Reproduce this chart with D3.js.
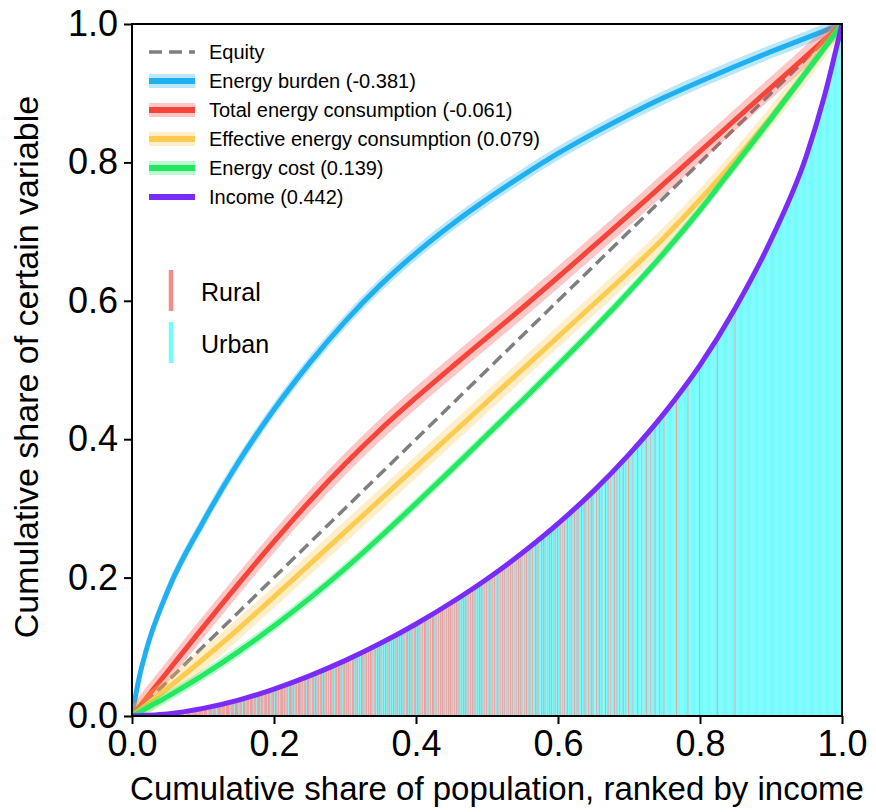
<!DOCTYPE html>
<html>
<head>
<meta charset="utf-8"/>
<script src="https://cdn.jsdelivr.net/npm/d3@7"></script>
<style>
  body { margin: 0; background: #fff; }
  text { font-family: "Liberation Sans", Arial, sans-serif; fill: #000; }
</style>
</head>
<body>
<div id="chart"></div>
<script>
// cumulative share of population (ranked by income)
var pop = [0, 0.01, 0.02, 0.05, 0.1, 0.15, 0.2, 0.25, 0.3, 0.35, 0.4, 0.45, 0.5,
           0.55, 0.6, 0.65, 0.7, 0.75, 0.8, 0.85, 0.9, 0.95, 0.975, 1];

var equity      = pop.slice();
var burden      = [0, 0.055, 0.095, 0.18, 0.28, 0.367, 0.443, 0.51, 0.57, 0.623, 0.669, 0.71, 0.747,
                   0.781, 0.813, 0.842, 0.869, 0.894, 0.917, 0.939, 0.96, 0.98, 0.99, 1];
var totalCons   = [0, 0.0128, 0.0256, 0.064, 0.128, 0.191, 0.252, 0.31, 0.364, 0.414, 0.46, 0.504, 0.547,
                   0.59, 0.634, 0.679, 0.724, 0.77, 0.816, 0.862, 0.908, 0.954, 0.977, 1];
var effCons     = [0, 0.008, 0.016, 0.04, 0.082, 0.126, 0.172, 0.219, 0.266, 0.313, 0.36, 0.407, 0.454,
                   0.501, 0.548, 0.595, 0.642, 0.692, 0.746, 0.804, 0.866, 0.932, 0.966, 1];
var energyCost  = [0, 0.005, 0.011, 0.028, 0.059, 0.093, 0.13, 0.17, 0.213, 0.259, 0.307, 0.356, 0.406,
                   0.456, 0.507, 0.559, 0.613, 0.67, 0.731, 0.797, 0.863, 0.931, 0.965, 1];
var income      = [0, 0.0005, 0.001, 0.003, 0.011, 0.023, 0.039, 0.058, 0.08, 0.105, 0.133, 0.164, 0.198,
                   0.236, 0.278, 0.325, 0.378, 0.438, 0.507, 0.59, 0.688, 0.81, 0.895, 1];

var seriesNames  = ["Energy burden (-0.381)", "Total energy consumption (-0.061)",
                    "Effective energy consumption (0.079)", "Energy cost (0.139)", "Income (0.442)"];
var seriesColors = ["#1eb0f0", "#f5443a", "#fccb50", "#22e862", "#7a2cf6"];
var bandHalf     = [0.01, 0.016, 0.016, 0.008, 0];   // half width of the shaded band

// share of rural households in each 0.05 income bin
var ruralShare = [0.9, 0.85, 0.8, 0.75, 0.7, 0.65, 0.6, 0.55, 0.55, 0.5,
                  0.45, 0.42, 0.38, 0.3, 0.2, 0.08, 0.04, 0, 0, 0];
var xTicks = [0, 0.2, 0.4, 0.6, 0.8, 1.0];
var yTicks = [0, 0.2, 0.4, 0.6, 0.8, 1.0];

var W = 876, H = 812;
var x = d3.scaleLinear().domain([0, 1]).range([132, 842]);
var y = d3.scaleLinear().domain([0, 1]).range([716, 24]);

var svg = d3.select("#chart").append("svg").attr("width", W).attr("height", H);
svg.append("defs").append("clipPath").attr("id", "clip")
   .append("rect").attr("x", 132).attr("y", 24).attr("width", 710).attr("height", 692);

var plot = svg.append("g").attr("clip-path", "url(#clip)");

var line = d3.line().x(function(d) { return x(d[0]); }).y(function(d) { return y(d[1]); })
             .curve(d3.curveMonotoneX);

// rural / urban bars under the income curve (heights follow the drawn income path)
var incomePath = svg.append("path").attr("d", line(d3.zip(pop, income)))
                    .attr("fill", "none").attr("stroke", "none");
var pathNode = incomePath.node(), pathLen = pathNode.getTotalLength();
var samples = d3.range(0, 1001).map(function(i) { return pathNode.getPointAtLength(pathLen * i / 1000); });
var curveTopAt = function(px) {
  var i = d3.bisector(function(s) { return s.x; }).left(samples, px);
  return samples[Math.min(i, samples.length - 1)].y;
};
incomePath.remove();

var strips = 40, binW = 0.05, bars = [];
ruralShare.forEach(function(s, b) {
  var n = Math.round(s * strips);
  for (var j = 0; j < strips; j++) {
    var rural = Math.floor((j + 1) * n / strips) > Math.floor(j * n / strips);
    var p0 = b * binW + j * binW / strips;
    bars.push({p0: p0, p1: p0 + binW / strips, rural: rural});
  }
});
plot.append("g").selectAll("rect").data(bars).enter().append("rect")
  .attr("x", function(d) { return x(d.p0); })
  .attr("width", function(d) { return x(d.p1) - x(d.p0) + 0.3; })
  .attr("y", function(d) { return curveTopAt(x((d.p0 + d.p1) / 2)); })
  .attr("height", function(d) { return y(0) - curveTopAt(x((d.p0 + d.p1) / 2)); })
  .attr("fill", function(d) { return d.rural ? "#f29a9a" : "#74fbfc"; });

// equity line
plot.append("path").datum(d3.zip(pop, equity)).attr("d", line)
  .attr("fill", "none").attr("stroke", "#7f7f7f").attr("stroke-width", 3.5)
  .attr("stroke-dasharray", "12,6");

var allSeries = [burden, totalCons, effCons, energyCost, income];
var band = d3.area().x(function(d) { return x(d[0]); })
  .y0(function(d) { return y(d[1] - d[2]); }).y1(function(d) { return y(d[1] + d[2]); })
  .curve(d3.curveMonotoneX);

allSeries.forEach(function(vals, k) {
  if (bandHalf[k] > 0) {
    plot.append("path").datum(pop.map(function(p, i) { return [p, vals[i], bandHalf[k]]; }))
      .attr("d", band).attr("fill", seriesColors[k]).attr("fill-opacity", 0.3);
  }
  plot.append("path").datum(d3.zip(pop, vals)).attr("d", line)
    .attr("fill", "none").attr("stroke", seriesColors[k]).attr("stroke-width", 5)
    .attr("stroke-linejoin", "round");
});

// axes
var xAxis = svg.append("g").attr("transform", "translate(0,716)")
  .call(d3.axisBottom(x).tickValues(xTicks).tickFormat(d3.format(".1f")).tickSize(8).tickPadding(6));
var yAxis = svg.append("g").attr("transform", "translate(132,0)")
  .call(d3.axisLeft(y).tickValues(yTicks).tickFormat(d3.format(".1f")).tickSize(8).tickPadding(6));
[xAxis, yAxis].forEach(function(a) {
  a.select(".domain").remove();
  a.selectAll(".tick line").attr("stroke", "#000").attr("stroke-width", 2);
  a.selectAll(".tick text").style("font-size", "36px")
    .style("font-family", "'Liberation Sans', Arial, sans-serif").attr("fill", "#000");
});
svg.append("rect").attr("x", 132).attr("y", 24).attr("width", 710).attr("height", 692)
  .attr("fill", "none").attr("stroke", "#000").attr("stroke-width", 2);

svg.append("text").attr("x", 497).attr("y", 800).attr("text-anchor", "middle")
  .style("font-size", "33px").text("Cumulative share of population, ranked by income");
svg.append("text").attr("transform", "translate(38,367) rotate(-90)").attr("text-anchor", "middle")
  .style("font-size", "34px").text("Cumulative share of certain variable");

// legend of lines
var leg = svg.append("g");
var rowY = function(i) { return 52 + i * 29; };
leg.append("line").attr("x1", 149).attr("x2", 195).attr("y1", rowY(0)).attr("y2", rowY(0))
  .attr("stroke", "#7f7f7f").attr("stroke-width", 3.5).attr("stroke-dasharray", "13,7");
leg.append("text").attr("x", 209).attr("y", rowY(0)).attr("dy", "0.35em")
  .style("font-size", "20px").text("Equity");
seriesNames.forEach(function(name, k) {
  var yy = rowY(k + 1);
  if (bandHalf[k] > 0) {
    leg.append("line").attr("x1", 149).attr("x2", 195).attr("y1", yy).attr("y2", yy)
      .attr("stroke", seriesColors[k]).attr("stroke-opacity", 0.3).attr("stroke-width", 14);
  }
  leg.append("line").attr("x1", 149).attr("x2", 195).attr("y1", yy).attr("y2", yy)
    .attr("stroke", seriesColors[k]).attr("stroke-width", 6);
  leg.append("text").attr("x", 209).attr("y", yy).attr("dy", "0.35em")
    .style("font-size", "20px").text(name);
});

// legend of bars
var areaNames = ["Rural", "Urban"], areaColors = ["#f78a8a", "#74fbfc"];
areaNames.forEach(function(name, k) {
  var top = 270 + k * 52;
  leg.append("line").attr("x1", 171).attr("x2", 171).attr("y1", top).attr("y2", top + 41)
    .attr("stroke", areaColors[k]).attr("stroke-width", 4.5);
  leg.append("text").attr("x", 201).attr("y", top + 31).style("font-size", "25px").text(name);
});
</script>
</body>
</html>
